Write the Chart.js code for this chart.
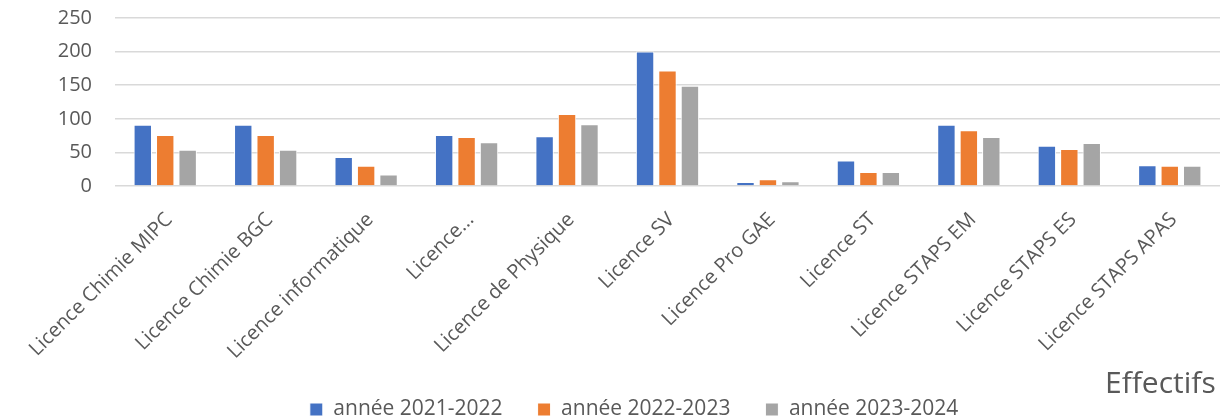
<!DOCTYPE html>
<html><head><meta charset="utf-8">
<script src="https://cdn.jsdelivr.net/npm/chart.js@4/dist/chart.umd.min.js"></script>
<style>
html,body{margin:0;padding:0;background:#fff;width:1220px;height:419px;overflow:hidden}
#wrap{position:relative;width:1220px;height:419px}
#effectifs{position:absolute;left:1105px;top:364px;font-family:"Open Sans",sans-serif;font-size:30px;color:#595959;white-space:nowrap;line-height:1.2}
</style></head><body>
<div id="wrap"><canvas id="c" width="1220" height="419"></canvas><div id="effectifs">Effectifs</div></div>
<script>
const categories = ['Licence Chimie MIPC','Licence Chimie BGC','Licence informatique','Licence...','Licence de Physique','Licence SV','Licence Pro GAE','Licence ST','Licence STAPS EM','Licence STAPS ES','Licence STAPS APAS'];
const seriesNames = ['année 2021-2022','année 2022-2023','année 2023-2024'];
const values2021 = [91,91,43,76,74,200,6,38,91,60,31];
const values2022 = [76,76,30,73,107,172,10,21,83,55,30];
const values2023 = [54,54,17,65,92,149,7,21,73,64,30];
const yTicks = [0,50,100,150,200,250];
const colors = ['#4472C4','#ED7D31','#A5A5A5'];
const seriesValues = [values2021, values2022, values2023];

const FONT = '"Open Sans", sans-serif';
new Chart(document.getElementById('c'), {
  type: 'bar',
  data: {
    labels: categories,
    datasets: seriesNames.map((n,i)=>({
      label: n,
      data: seriesValues[i],
      backgroundColor: colors[i],
      borderColor: '#ffffff',
      borderWidth: 1,
      categoryPercentage: 0.67,
      barPercentage: 0.82
    }))
  },
  options: {
    responsive: false,
    animation: false,
    devicePixelRatio: 1,
    layout: { padding: { left: 48, top: 18, right: 0, bottom: -11 } },
    plugins: {
      tooltip: { enabled: false },
      legend: {
        position: 'bottom',
        labels: {
          boxWidth: 13, boxHeight: 13,
          padding: 35,
          color: '#595959',
          font: { family: FONT, size: 21 }
        }
      }
    },
    scales: {
      x: {
        grid: { display: false },
        border: { display: false },
        ticks: {
          autoSkip: false,
          minRotation: 45, maxRotation: 45,
          color: '#595959',
          padding: 14,
          labelOffset: 4,
          font: { family: FONT, size: 20 }
        },
        afterFit: s => { s.height = 178; }
      },
      y: {
        min: 0, max: 250,
        afterBuildTicks: s => { s.ticks = yTicks.map(v => ({ value: v })); },
        grid: { color: '#d9d9d9', lineWidth: 1.5, drawTicks: false },
        border: { display: false },
        ticks: {
          padding: 23,
          color: '#595959',
          font: { family: FONT, size: 20 }
        },
        afterFit: s => { s.width = 67; s.paddingTop = 0; s.paddingBottom = 0; }
      }
    }
  }
});
</script>
</body></html>
